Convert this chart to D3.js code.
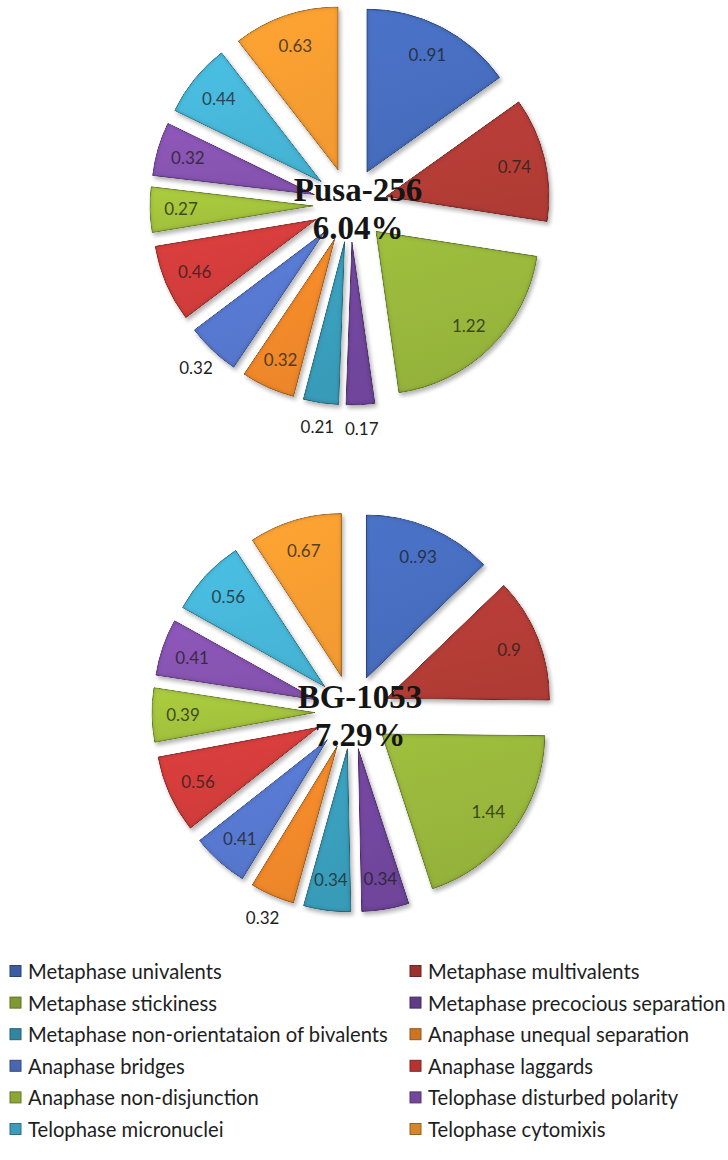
<!DOCTYPE html>
<html><head><meta charset="utf-8">
<script src="https://cdn.jsdelivr.net/npm/d3@7"></script>
<style>body{margin:0;background:#fff}</style>
</head><body>
<svg id="chart" width="728" height="1160"></svg>
<script>
const categories = [
  "Metaphase univalents", "Metaphase multivalents",
  "Metaphase stickiness", "Metaphase precocious separation",
  "Metaphase non-orientataion of bivalents", "Anaphase unequal separation",
  "Anaphase bridges", "Anaphase laggards",
  "Anaphase non-disjunction", "Telophase disturbed polarity",
  "Telophase micronuclei", "Telophase cytomixis"
];
const pusaValues = [0.91, 0.74, 1.22, 0.17, 0.21, 0.32, 0.32, 0.46, 0.27, 0.32, 0.44, 0.63];
const pusaLabels = ["0..91", "0.74", "1.22", "0.17", "0.21", "0.32", "0.32", "0.46", "0.27", "0.32", "0.44", "0.63"];
const pusaTitle = ["Pusa-256", "6.04%"];
const pusaOutside = [3, 4, 6];

const bgValues = [0.93, 0.90, 1.44, 0.34, 0.34, 0.32, 0.41, 0.56, 0.39, 0.41, 0.56, 0.67];
const bgLabels = ["0..93", "0.9", "1.44", "0.34", "0.34", "0.32", "0.41", "0.56", "0.39", "0.41", "0.56", "0.67"];
const bgTitle = ["BG-1053", "7.29%"];
const bgOutside = [5];

const colors = ["#456bbb", "#b03b35", "#94b23a", "#6f449a", "#389bb8", "#ec8629",
                "#5676cc", "#cf3c3a", "#a0bf3b", "#8552ae", "#45b3d4", "#f39a30"];

const svg = d3.select("#chart");
const defs = svg.append("defs");

// bevel + shadow filter
const f = defs.append("filter").attr("id", "bevel")
  .attr("x", "-20%").attr("y", "-20%").attr("width", "140%").attr("height", "140%");
f.append("feGaussianBlur").attr("in", "SourceAlpha").attr("stdDeviation", 2.4).attr("result", "b");
f.append("feComposite").attr("in", "SourceAlpha").attr("in2", "b").attr("operator", "arithmetic")
  .attr("k1", 0).attr("k2", 1).attr("k3", -1).attr("k4", 0).attr("result", "edge");
f.append("feFlood").attr("flood-color", "#000").attr("flood-opacity", 0.5).attr("result", "fl");
f.append("feComposite").attr("in", "fl").attr("in2", "edge").attr("operator", "in").attr("result", "edgeShade");
f.append("feComposite").attr("in", "edgeShade").attr("in2", "SourceGraphic").attr("operator", "over").attr("result", "bev");
f.append("feComposite").attr("in", "bev").attr("in2", "SourceAlpha").attr("operator", "in").attr("result", "bev2");
f.append("feGaussianBlur").attr("in", "SourceAlpha").attr("stdDeviation", 2).attr("result", "sb");
f.append("feOffset").attr("in", "sb").attr("dx", 1.5).attr("dy", 2.5).attr("result", "sh");
const ct = f.append("feComponentTransfer").attr("in", "sh").attr("result", "sh2");
ct.append("feFuncA").attr("type", "linear").attr("slope", 0.3);
const fm = f.append("feMerge");
fm.append("feMergeNode").attr("in", "sh2");
fm.append("feMergeNode").attr("in", "bev2");

colors.forEach((c, i) => {
  const g = defs.append("linearGradient").attr("id", "grad" + i)
    .attr("x1", 0).attr("y1", 0).attr("x2", 0.3).attr("y2", 1);
  g.append("stop").attr("offset", 0).attr("stop-color", d3.color(c).brighter(0.2));
  g.append("stop").attr("offset", 1).attr("stop-color", c);
});

const R = 163, explode = 37, rIn = 132, rOut = 224;
const pie = d3.pie().sort(null).value(d => d);
const arc = d3.arc().innerRadius(0).outerRadius(R);

function drawPie(cx, cy, values, labels, title, outside) {
  const g = svg.append("g").attr("transform", `translate(${cx},${cy})`);
  const arcs = pie(values);
  const mid = a => (a.startAngle + a.endAngle) / 2;
  g.selectAll("path.slice").data(arcs).enter().append("path")
    .attr("class", "slice")
    .attr("d", arc)
    .attr("transform", a => `translate(${explode * Math.sin(mid(a))},${-explode * Math.cos(mid(a))})`)
    .attr("fill", (a, i) => `url(#grad${i})`)
    .attr("stroke", (a, i) => d3.color(colors[i]).darker(1))
    .attr("stroke-width", 1)
    .attr("filter", "url(#bevel)");

  g.selectAll("text.lbl").data(arcs).enter().append("text")
    .attr("class", "lbl")
    .attr("x", (a, i) => (outside.includes(i) ? rOut : explode + rIn) * Math.sin(mid(a)))
    .attr("y", (a, i) => -(outside.includes(i) ? rOut : explode + rIn) * Math.cos(mid(a)))
    .attr("text-anchor", "middle").attr("dominant-baseline", "central")
    .attr("font-family", "Lato, 'Open Sans', sans-serif").attr("font-size", 17)
    .attr("fill", (a, i) => outside.includes(i) ? "#1e1e1e" : d3.interpolateRgb(colors[i], "#1c1c1c")(0.72))
    .text((a, i) => labels[i]);

  g.selectAll("text.title").data(title).enter().append("text")
    .attr("class", "title")
    .attr("x", 8).attr("y", (d, i) => -4 + i * 38)
    .attr("text-anchor", "middle")
    .attr("font-family", "'Liberation Serif', 'Times New Roman', serif")
    .attr("font-weight", "bold").attr("font-size", 33)
    .attr("fill", "#151515")
    .text(d => d);
}

drawPie(350, 205, pusaValues, pusaLabels, pusaTitle, pusaOutside);
drawPie(352, 712, bgValues, bgLabels, bgTitle, bgOutside);

// legend
const legend = svg.append("g");
const colX = [10, 410], rowY0 = 971, rowH = 31.6;
const items = legend.selectAll("g.item").data(categories).enter().append("g")
  .attr("class", "item")
  .attr("transform", (d, i) => `translate(${colX[i % 2]},${rowY0 + Math.floor(i / 2) * rowH})`);
items.append("rect").attr("x", 0).attr("y", -5.5).attr("width", 11).attr("height", 11)
  .attr("fill", (d, i) => d3.color(colors[i]).darker(0.4))
  .attr("stroke", (d, i) => d3.color(colors[i]).darker(1.3)).attr("stroke-width", 1);
const texts = items.append("text").attr("x", 18).attr("y", 0)
  .attr("dominant-baseline", "central")
  .attr("font-family", "Lato, 'Open Sans', sans-serif").attr("font-size", 18)
  .attr("fill", "#1e1e1e")
  .text(d => d);
// fit widest left-column label to reference width
const w = texts.filter((d, i) => i === 4).node().getComputedTextLength();
const fs = 18 * 360 / w;
texts.attr("font-size", fs);
</script>
</body></html>
